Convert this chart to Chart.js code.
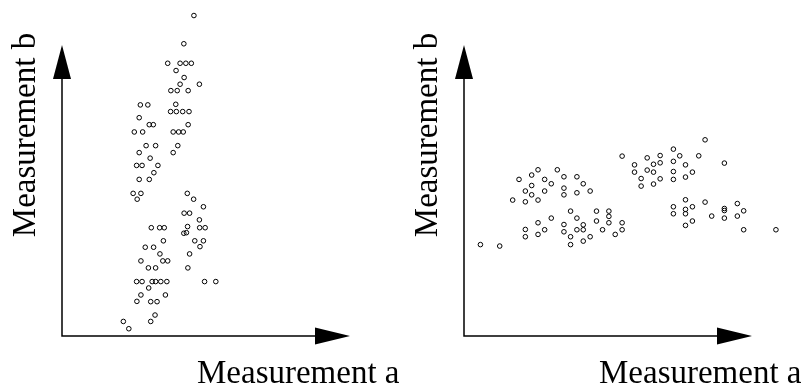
<!DOCTYPE html>
<html>
<head>
<meta charset="utf-8">
<title>Measurement a vs Measurement b</title>
<script src="https://cdn.jsdelivr.net/npm/chart.js@4/dist/chart.umd.min.js"></script>
<style>
    html, body { margin: 0; padding: 0; background: #fff; }
    .wrap { position: relative; width: 804px; height: 386px; overflow: hidden; }
    .panel { position: absolute; top: 0; width: 402px; height: 386px; }
    #panelLeft { left: 0; }
    #panelRight { left: 402px; }
</style>
</head>
<body>
<div class="wrap">
    <div class="panel" id="panelLeft"><canvas id="leftChart" width="402" height="386"></canvas></div>
    <div class="panel" id="panelRight"><canvas id="rightChart" width="402" height="386"></canvas></div>
</div>
<script>
// Axis titles
const xTitle = 'Measurement a';
const yTitle = 'Measurement b';

// Arrow tips sit at this value on both axes; a few points lie past them
const axisEnd = 10;

// Left panel: two groups stacked along b
const leftA = [
    4.58, 4.23, 3.67, 4.10, 4.30, 4.49, 3.96, 4.24, 4.10, 4.77,
    3.78, 4.00, 4.38, 2.72, 2.98, 3.95, 3.77, 3.97, 4.19, 4.41,
    2.68, 3.03, 3.17, 4.38, 2.51, 2.80, 3.86, 4.05, 4.21, 2.92,
    3.25, 4.02, 2.68, 3.86, 3.06, 2.59, 2.78, 3.33, 3.19, 2.68,
    3.03, 2.47, 2.74, 2.61, 4.35, 4.57, 4.91, 4.24, 4.43, 4.77,
    3.10, 3.39, 3.55, 4.36, 4.78, 4.97, 4.23, 4.32, 3.52, 4.61,
    4.91, 4.79, 2.89, 3.18, 3.40, 4.43, 2.74, 3.50, 3.67, 3.00,
    3.25, 4.37, 2.59, 2.78, 3.13, 3.25, 3.43, 3.64, 4.95, 5.34,
    3.01, 2.74, 2.60, 3.59, 3.08, 3.30, 3.23, 3.08, 2.13, 2.32
];
const leftB = [
    11.01, 10.04, 9.37, 9.37, 9.37, 9.37, 9.12, 8.88, 8.65, 8.65,
    8.43, 8.43, 8.43, 7.94, 7.94, 7.96, 7.71, 7.71, 7.71, 7.71,
    7.50, 7.26, 7.26, 7.26, 7.01, 7.01, 7.01, 7.01, 7.01, 6.54,
    6.54, 6.54, 6.30, 6.30, 6.11, 5.86, 5.86, 5.86, 5.61, 5.38,
    5.38, 4.90, 4.90, 4.70, 4.90, 4.70, 4.44, 4.22, 4.22, 3.99,
    3.72, 3.72, 3.72, 3.76, 3.72, 3.72, 3.53, 3.55, 3.27, 3.27,
    3.27, 3.07, 3.05, 3.05, 2.82, 2.82, 2.58, 2.58, 2.58, 2.34,
    2.34, 2.34, 1.87, 1.87, 1.87, 1.87, 1.87, 1.87, 1.87, 1.87,
    1.65, 1.41, 1.19, 1.41, 1.18, 1.18, 0.72, 0.50, 0.50, 0.25
];

// Right panel: four groups spread along a
const rightA = [
    8.37, 5.49, 6.36, 6.81, 7.27, 7.49, 8.15, 9.04, 5.92, 5.92,
    6.58, 6.81, 6.36, 6.58, 7.27, 7.27, 7.27, 7.69, 7.69, 7.93,
    6.15, 6.15, 6.58, 6.81, 7.69, 8.37, 9.49, 7.27, 7.27, 7.69,
    7.69, 7.93, 7.69, 7.93, 8.60, 9.04, 9.04, 9.04, 9.49, 9.71,
    9.71, 10.83, 1.91, 2.35, 2.57, 3.24, 2.80, 3.03, 3.47, 3.92,
    4.14, 2.35, 2.13, 2.35, 2.80, 3.47, 3.47, 3.92, 4.38, 1.69,
    2.13, 2.57, 3.70, 4.60, 5.03, 5.03, 3.03, 3.92, 4.60, 5.03,
    5.49, 2.57, 2.13, 2.13, 2.57, 2.80, 3.47, 3.47, 3.70, 3.70,
    3.92, 4.14, 4.14, 4.14, 4.38, 4.81, 5.25, 5.49, 0.57, 1.24
];
const rightB = [
    6.74, 6.18, 6.12, 6.20, 6.42, 6.19, 6.19, 5.94, 5.88, 5.63,
    5.90, 5.95, 5.70, 5.63, 6.00, 5.65, 5.38, 5.88, 5.46, 5.63,
    5.41, 5.15, 5.22, 5.40, 4.68, 4.60, 4.55, 4.44, 4.20, 4.35,
    4.20, 4.44, 3.80, 3.95, 4.12, 4.38, 4.31, 4.05, 4.12, 4.30,
    3.65, 3.65, 5.38, 5.53, 5.71, 5.71, 5.38, 5.23, 5.47, 5.47,
    5.23, 5.17, 4.98, 4.85, 4.98, 5.08, 4.85, 4.92, 4.98, 4.67,
    4.61, 4.67, 4.29, 4.29, 4.29, 4.11, 4.05, 4.05, 3.95, 3.89,
    3.89, 3.89, 3.66, 3.41, 3.49, 3.65, 3.83, 3.58, 3.41, 3.14,
    3.65, 3.82, 3.65, 3.26, 3.41, 3.65, 3.49, 3.65, 3.14, 3.09
];

const SERIF = '"Liberation Serif", "Times New Roman", Times, serif';

// Draws the arrowed axes and their titles; tips are placed at axisEnd
const arrowAxes = {
    id: 'arrowAxes',
    afterDraw(chart) {
        const ctx = chart.ctx;
        const xs = chart.scales.x;
        const ys = chart.scales.y;
        const x0 = xs.getPixelForValue(0);
        const y0 = ys.getPixelForValue(0);
        const xTip = xs.getPixelForValue(axisEnd);
        const yTip = ys.getPixelForValue(axisEnd);

        ctx.save();
        ctx.strokeStyle = '#000';
        ctx.fillStyle = '#000';
        ctx.lineWidth = 1.5;

        // axis lines
        ctx.beginPath();
        ctx.moveTo(x0, yTip + 30);
        ctx.lineTo(x0, y0);
        ctx.lineTo(xTip - 30, y0);
        ctx.stroke();

        // arrow heads
        ctx.beginPath();
        ctx.moveTo(x0, yTip);
        ctx.lineTo(x0 - 9, yTip + 34);
        ctx.lineTo(x0 + 9, yTip + 34);
        ctx.closePath();
        ctx.fill();

        ctx.beginPath();
        ctx.moveTo(xTip, y0);
        ctx.lineTo(xTip - 35, y0 - 8.5);
        ctx.lineTo(xTip - 35, y0 + 8.5);
        ctx.closePath();
        ctx.fill();

        // titles
        ctx.font = '33px ' + SERIF;
        ctx.textBaseline = 'alphabetic';
        ctx.textAlign = 'left';
        ctx.fillText(xTitle, x0 + 135, 383);

        ctx.translate(x0 - 27, 135);
        ctx.rotate(-Math.PI / 2);
        ctx.textAlign = 'center';
        ctx.fillText(yTitle, 0, 0);
        ctx.restore();
    }
};

function makePoints(xs, ys) {
    return xs.map((x, i) => ({ x: x, y: ys[i] }));
}

function scatterPanel(canvasId, xs, ys) {
    const ctx = document.getElementById(canvasId).getContext('2d');
    return new Chart(ctx, {
        type: 'scatter',
        data: {
            datasets: [{
                data: makePoints(xs, ys),
                pointStyle: 'circle',
                pointRadius: 2.3,
                pointBorderWidth: 1,
                borderColor: '#000',
                backgroundColor: 'rgba(0,0,0,0)',
                clip: false
            }]
        },
        options: {
            responsive: false,
            animation: false,
            devicePixelRatio: 1,
            events: [],
            // plot area 62..382 by 10..336, one unit = 28.8px across, 29.1px up
            layout: {
                padding: { left: 62, right: 20, top: 10, bottom: 50 }
            },
            plugins: {
                legend: { display: false },
                tooltip: { enabled: false }
            },
            scales: {
                x: { type: 'linear', min: 0, max: 11.11, display: false },
                y: { type: 'linear', min: 0, max: 11.2, display: false }
            }
        },
        plugins: [arrowAxes]
    });
}

scatterPanel('leftChart', leftA, leftB);
scatterPanel('rightChart', rightA, rightB);
</script>
</body>
</html>
